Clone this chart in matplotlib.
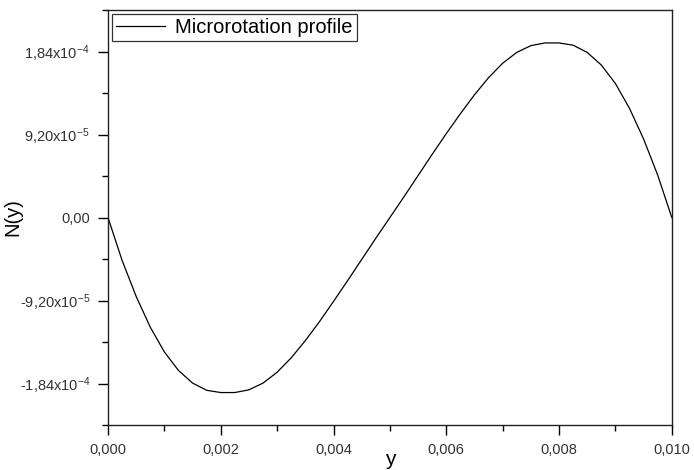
import matplotlib
matplotlib.use("Agg")
import matplotlib.pyplot as plt
from matplotlib.ticker import FixedLocator, MultipleLocator

plt.rcParams["font.family"] = ["Liberation Sans", "DejaVu Sans"]
plt.rcParams["mathtext.fontset"] = "custom"
plt.rcParams["mathtext.rm"] = "Liberation Sans"
plt.rcParams["mathtext.it"] = "Liberation Sans"

# values
y_pos = [0.0, 0.00025, 0.0005, 0.00075, 0.001, 0.00125, 0.0015, 0.00175,
         0.002, 0.00225, 0.0025, 0.00275, 0.003, 0.00325, 0.0035, 0.00375,
         0.004, 0.00425, 0.0045, 0.00475, 0.005, 0.00525, 0.0055, 0.00575,
         0.006, 0.00625, 0.0065, 0.00675, 0.007, 0.00725, 0.0075, 0.00775,
         0.008, 0.00825, 0.0085, 0.00875, 0.009, 0.00925, 0.0095, 0.00975,
         0.01]
n_vals = [0.0, -4.75e-5, -8.75e-5, -1.215e-4, -1.49e-4, -1.695e-4, -1.835e-4, -1.915e-4,
          -1.94e-4, -1.94e-4, -1.91e-4, -1.835e-4, -1.715e-4, -1.555e-4, -1.365e-4, -1.155e-4,
          -9.3e-5, -7.0e-5, -4.65e-5, -2.3e-5, 0.0, 2.3e-5, 4.65e-5, 7.0e-5,
          9.3e-5, 1.15e-4, 1.36e-4, 1.55e-4, 1.71e-4, 1.83e-4, 1.905e-4, 1.935e-4,
          1.935e-4, 1.91e-4, 1.83e-4, 1.69e-4, 1.485e-4, 1.21e-4, 8.7e-5, 4.7e-5,
          0.0]

x_ticks = [0.0, 0.002, 0.004, 0.006, 0.008, 0.010]
x_labels = ["0,000", "0,002", "0,004", "0,006", "0,008", "0,010"]
y_ticks = [-1.84e-4, -9.2e-5, 0.0, 9.2e-5, 1.84e-4]
y_labels = [r"-1,84x10$^{-4}$", r"-9,20x10$^{-5}$", "0,00",
            r"9,20x10$^{-5}$", r"1,84x10$^{-4}$"]

fig = plt.figure(figsize=(6.94, 4.70), dpi=100)
ax = fig.add_axes([0.1556, 0.0957, 0.8124, 0.883])

ax.plot(y_pos, n_vals, color="black", linewidth=0.9, label="Microrotation profile")

ax.set_xlim(0, 0.01)
ax.set_ylim(-2.3e-4, 2.3e-4)

ax.xaxis.set_major_locator(FixedLocator(x_ticks))
ax.set_xticklabels(x_labels)
ax.xaxis.set_minor_locator(MultipleLocator(0.001))
ax.yaxis.set_major_locator(FixedLocator(y_ticks))
ax.set_yticklabels(y_labels)
ax.yaxis.set_minor_locator(MultipleLocator(4.6e-5))

ax.tick_params(which="major", direction="out", length=7, width=1, labelsize=10.5,
               colors="black", top=False, right=False, pad=6)
ax.tick_params(which="minor", direction="out", length=4, width=1,
               top=False, right=False)
ax.tick_params(axis="x", labelcolor="#333333")
ax.tick_params(axis="y", labelcolor="#333333")

for sp in ax.spines.values():
    sp.set_linewidth(1.0)
    sp.set_color("#222222")

ax.set_xlabel("y", fontsize=15, labelpad=-5)
ax.set_ylabel("N(y)", fontsize=14.5)
ax.yaxis.set_label_coords(-0.151, 0.5)

leg = ax.legend(loc="upper left", fontsize=14.5, frameon=True, fancybox=False,
                borderaxespad=0.2, handlelength=2.45, handletextpad=0.5,
                borderpad=0.2)
leg.get_frame().set_edgecolor("black")
leg.get_frame().set_linewidth(0.9)

fig.savefig("out.png", dpi=100)
